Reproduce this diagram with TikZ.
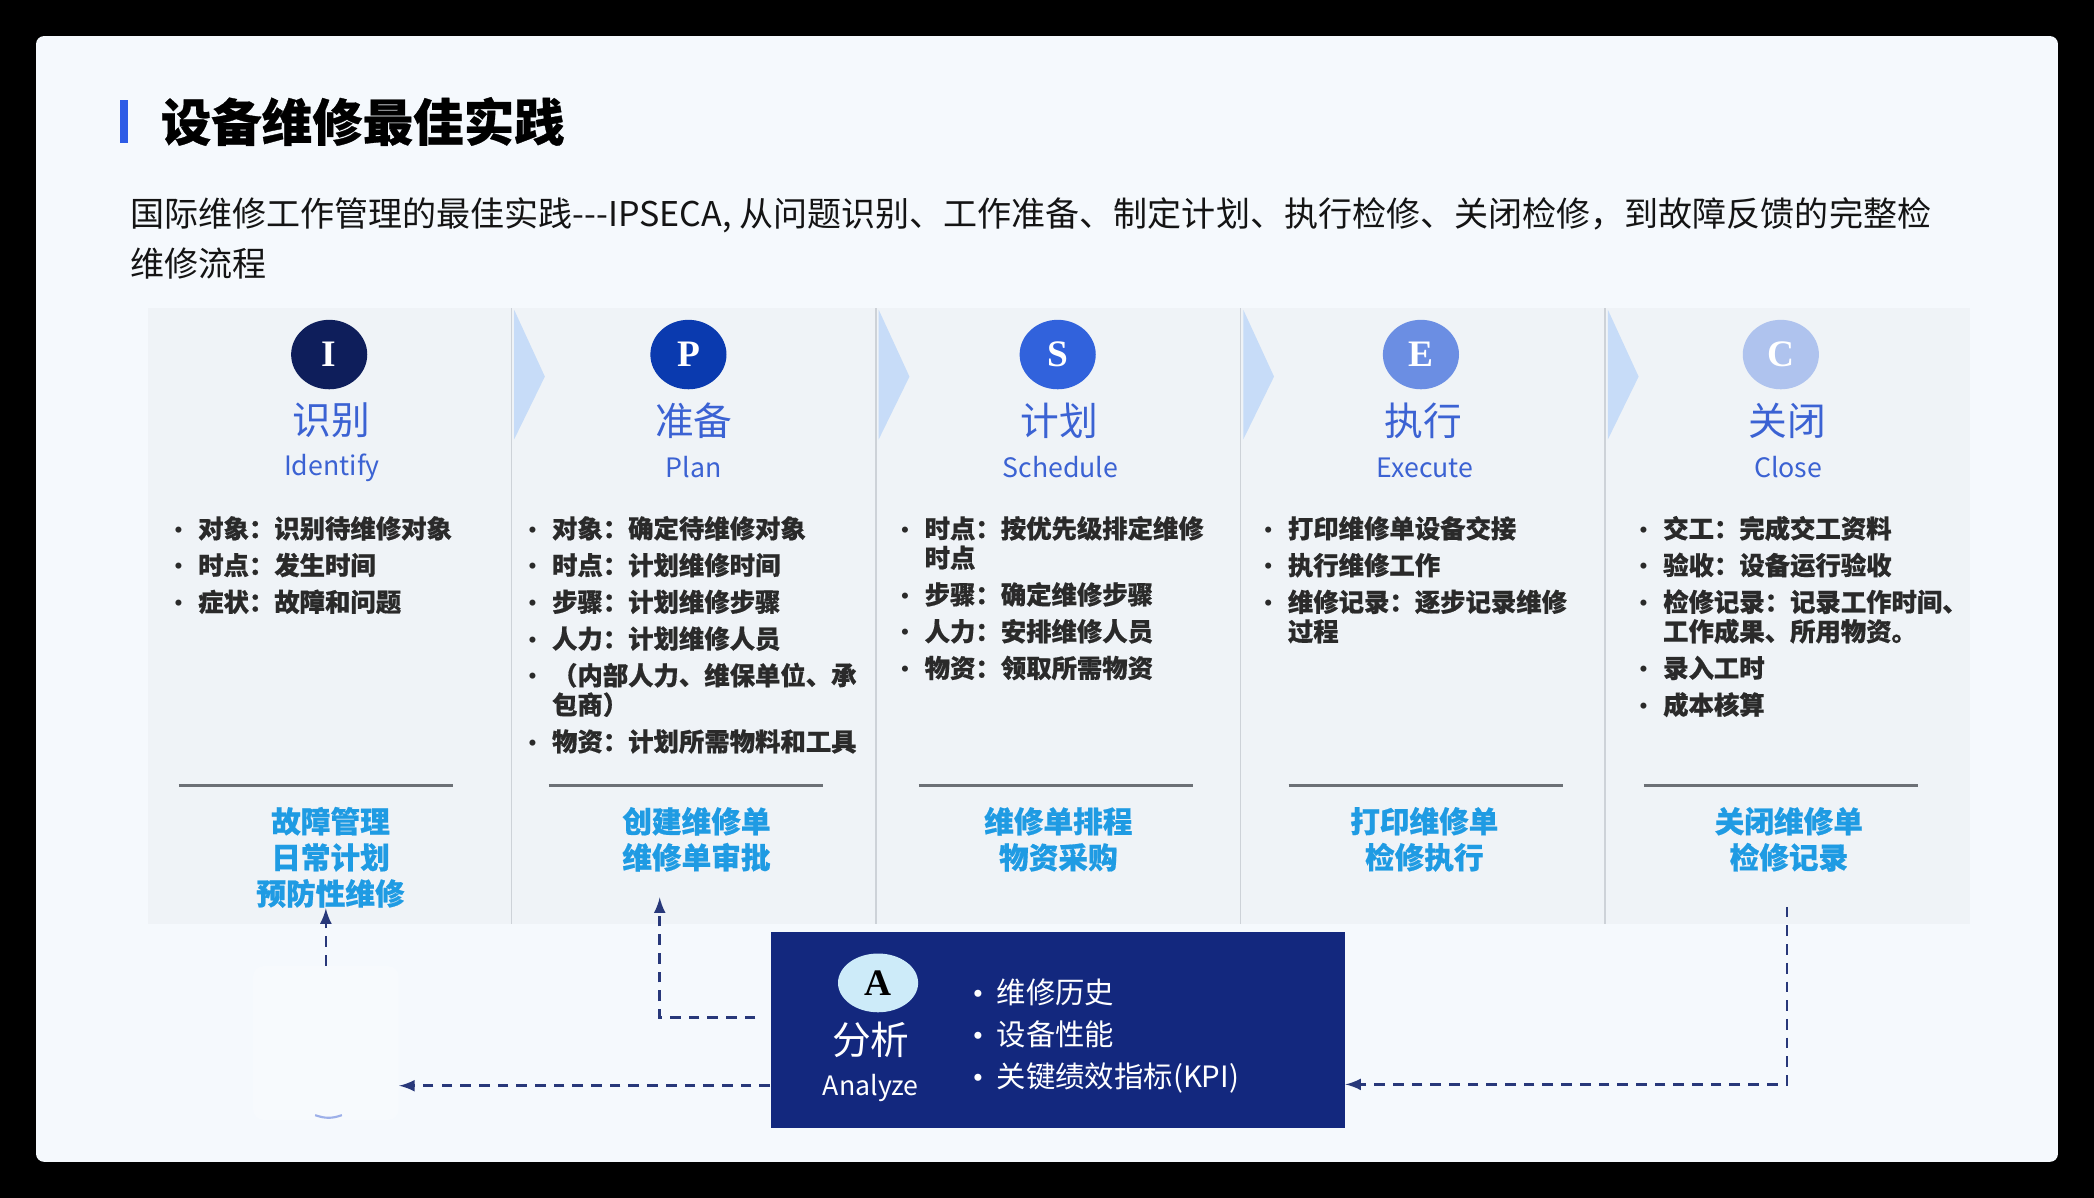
\documentclass[tikz,border=0pt]{standalone}
\usepackage{fontspec}
\setmainfont{Noto Sans CJK SC}[BoldFeatures={FakeBold=0.6}]
\newfontfamily\letterfont{Liberation Serif}
\usepackage{tikz}
\usetikzlibrary{shapes.geometric}

\definecolor{cardbg}{HTML}{F5F9FD}
\definecolor{panelbg}{HTML}{EFF3F7}
\definecolor{dividerc}{HTML}{CDD2D8}
\definecolor{chevc}{HTML}{C7DCF8}
\definecolor{barblue}{HTML}{2E5CE6}
\definecolor{stepblue}{HTML}{3B62D3}
\definecolor{itemtxt}{HTML}{2A2A2A}
\definecolor{capblue}{HTML}{1F9BE3}
\definecolor{sepc}{HTML}{6C7076}
\definecolor{anabg}{HTML}{13287E}
\definecolor{anaring}{HTML}{CDEBF9}
\definecolor{flowc}{HTML}{28387A}
\definecolor{cI}{HTML}{0E1E5B}
\definecolor{cP}{HTML}{0A3AAF}
\definecolor{cS}{HTML}{3162DC}
\definecolor{cE}{HTML}{6B8EE3}
\definecolor{cC}{HTML}{AFC3EE}

\newcommand{\itm}[1]{\par\hangindent=9pt\hangafter=1\noindent\makebox[9pt][l]{\letterfont\mdseries •}#1\par}

\begin{document}
\begin{tikzpicture}[x=0.5pt,y=-0.5pt,
	badge/.style={ellipse,minimum width=28.5pt,minimum height=26pt,inner sep=0pt,text=white,font=\letterfont\bfseries\fontsize{14}{14}\selectfont},
	zh/.style={inner sep=0pt,text=stepblue,font=\fontsize{14.5}{14.5}\selectfont},
	en/.style={inner sep=0pt,text=stepblue,font=\fontsize{10}{10}\selectfont},
	items/.style={anchor=north west,inner sep=0pt,text width=130pt,align=left,text=itemtxt,font=\bfseries\fontsize{9.5}{11}\selectfont,execute at begin node={\setlength{\parskip}{2.75pt}}},
	capline/.style={inner sep=0pt,align=center,text=capblue,font=\bfseries\fontsize{11.1}{13.5}\selectfont},
	seprule/.style={draw=sepc,line width=1pt},
	flow/.style={draw=flowc,line width=1pt,dash pattern=on 4pt off 3pt,-latex}]
		\useasboundingbox (0,0) rectangle (1568,897);
		\fill[black] (0,0) rectangle (1568,897);
		\fill[cardbg,rounded corners=3pt] (27,27) rectangle (1541,870);
		\fill[barblue] (90,75) rectangle (96,107);
		\node[anchor=west,inner sep=0pt,font=\bfseries\fontsize{18.9}{18.9}\selectfont] (title) at (120,91) {设备维修最佳实践};
		\node[anchor=west,inner sep=0pt,align=left,text=black!92,font=\fontsize{12.75}{18.5}\selectfont] (lead) at (97,178.5)
			{国际维修工作管理的最佳实践\mbox{-}\mbox{-}\mbox{-}IPSECA, 从问题识别、工作准备、制定计划、执行检修、关闭检修，到故障反馈的完整检\\维修流程};

		\fill[panelbg] (111,231) rectangle (1475,692);
		\foreach \x in {383,656,929,1202}{
			\draw[dividerc,line width=0.6pt] (\x,231) -- (\x,692);
			\fill[chevc] (\x+2,232) -- (\x+25,282) -- (\x+2,329) -- cycle;
		}

		\node[badge,fill=cI] (bI) at (246.5,265.5) {I};
		\node[badge,fill=cP] (bP) at (515.5,265.5) {P};
		\node[badge,fill=cS] (bS) at (792,265.5) {S};
		\node[badge,fill=cE] (bE) at (1064,265.5) {E};
		\node[badge,fill=cC] (bC) at (1333.5,265.5) {C};

		\node[zh] (zI) at (248,315) {识别};
		\node[zh] (zP) at (519.5,315) {准备};
		\node[zh] (zS) at (793,315) {计划};
		\node[zh] (zE) at (1066,315) {执行};
		\node[zh] (zC) at (1338.5,315) {关闭};
		\node[en] (eI) at (248.5,350) {Identify};
		\node[en] (eP) at (519.5,350) {Plan};
		\node[en] (eS) at (794,350) {Schedule};
		\node[en] (eE) at (1067,350) {Execute};
		\node[en] (eC) at (1339,350) {Close};

		\node[items] (iI) at (130,375) {\itm{对象：识别待维修对象}\itm{时点：发生时间}\itm{症状：故障和问题}};
		\node[items] (iP) at (395,375) {\itm{对象：确定待维修对象}\itm{时点：计划维修时间}\itm{步骤：计划维修步骤}\itm{人力：计划维修人员}\itm{（内部人力、维保单位、承\newline 包商）}\itm{物资：计划所需物料和工具}};
		\node[items] (iS) at (674,375) {\itm{时点：按优先级排定维修\newline 时点}\itm{步骤：确定维修步骤}\itm{人力：安排维修人员}\itm{物资：领取所需物资}};
		\node[items] (iE) at (946,375) {\itm{打印维修单设备交接}\itm{执行维修工作}\itm{维修记录：逐步记录维修\newline 过程}};
		\node[items] (iC) at (1227,375) {\itm{交工：完成交工资料}\itm{验收：设备运行验收}\itm{检修记录：记录工作时间、\newline 工作成果、所用物资。}\itm{录入工时}\itm{成本核算}};

		\draw[seprule] (134,588) -- (339,588);
		\draw[seprule] (411,588) -- (616,588);
		\draw[seprule] (688,588) -- (893,588);
		\draw[seprule] (965,588) -- (1170,588);
		\draw[seprule] (1231,588) -- (1436,588);

		\node[capline] (kI) at (247.5,642) {故障管理\\日常计划\\预防性维修};
		\node[capline] (kP) at (521.5,628.5) {创建维修单\\维修单审批};
		\node[capline] (kS) at (792.5,628.5) {维修单排程\\物资采购};
		\node[capline] (kE) at (1066.5,628.5) {打印维修单\\检修执行};
		\node[capline] (kC) at (1339.5,628.5) {关闭维修单\\检修记录};

		\node[fill=anabg,minimum width=215pt,minimum height=73.5pt,inner sep=0pt] (ana) at (792,771.5) {};
		\node[ellipse,fill=anaring,minimum width=30pt,minimum height=22pt,inner sep=0pt,font=\letterfont\bfseries\fontsize{14}{14}\selectfont] (bA) at (657.5,736) {A};
		\node[zh,text=white] (zA) at (652,779) {分析};
		\node[en,text=white] (eA) at (652,815) {Analyze};
		\node[anchor=west,inner sep=0pt,text width=130pt,align=left,text=white,font=\fontsize{11}{15.75}\selectfont] (iA) at (728,769.5)
			{\itm{维修历史}\itm{设备性能}\itm{关键绩效指标(KPI)}};

		\node[fill=white,fill opacity=0.25,rounded corners=4pt,minimum width=54.5pt,minimum height=57.5pt,inner sep=0pt] (fb) at (244,781) {};
		\draw[stepblue!50,line width=0.8pt] (236,835) to[bend right=20] (256,835);

		\coordinate (pP) at (494,672);
		\coordinate (pC) at (1338,679);
		\draw[flow] (fb.north) -- (fb.north |- kI.south);
		\draw[flow,shorten <=5.5pt] (ana.west |- 0,762) -| (pP);
		\draw[flow] (ana.west |- 0,813) -- (fb.east |- 0,813);
		\draw[flow] (pC) |- (ana.east |- 0,812);
	\end{tikzpicture}
\end{document}
